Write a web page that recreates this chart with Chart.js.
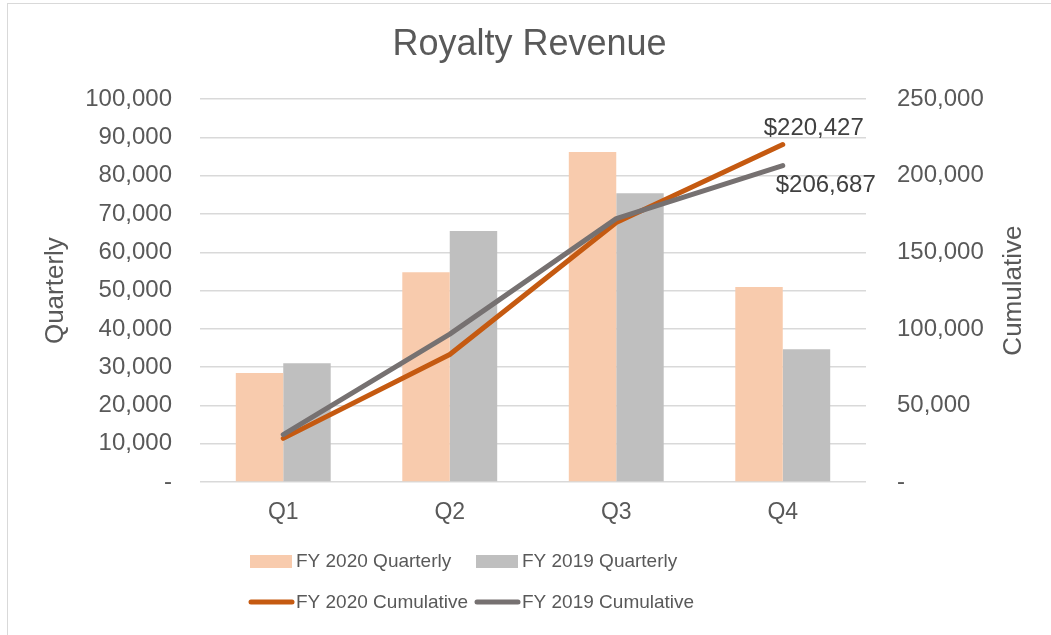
<!DOCTYPE html>
<html><head><meta charset="utf-8">
<script src="https://cdn.jsdelivr.net/npm/chart.js@4.4.0/dist/chart.umd.min.js"></script>
<style>
html,body{margin:0;padding:0;background:#fff;}
#wrap{position:relative;width:1051px;height:635px;overflow:hidden;}
#frame{position:absolute;left:7px;top:3px;width:1060px;height:640px;border:1px solid #D9D9D9;box-sizing:border-box;}
canvas{position:absolute;left:0;top:0;}
</style></head><body>
<div id="wrap"><div id="frame"></div><canvas id="c" width="1051" height="635"></canvas></div>
<script>
const chartTitle = 'Royalty Revenue';
const categories = ['Q1', 'Q2', 'Q3', 'Q4'];
const fy2020Quarterly = [28500, 54800, 86200, 50927];
const fy2019Quarterly = [31000, 65600, 75400, 34687];
const fy2020Cumulative = [28500, 83300, 169500, 220427];
const fy2019Cumulative = [31000, 96600, 172000, 206687];
const seriesLabels = ['FY 2020 Quarterly', 'FY 2019 Quarterly', 'FY 2020 Cumulative', 'FY 2019 Cumulative'];
const leftAxisTitle = 'Quarterly';
const rightAxisTitle = 'Cumulative';
const leftAxisRange = [0, 100000, 10000];
const rightAxisRange = [0, 250000, 50000];

const TEXT = '#595959';
const FONT = "'Liberation Sans', Arial, sans-serif";
const fmt = v => v === 0 ? '-' : v.toLocaleString('en-US');

const extras = {
  id: 'extras',
  afterDraw(chart) {
    const ctx = chart.ctx;
    const ca = chart.chartArea;
    ctx.save();
    // right axis title, reading bottom to top
    ctx.font = '26px ' + FONT;
    ctx.fillStyle = TEXT;
    ctx.textAlign = 'center';
    ctx.textBaseline = 'middle';
    ctx.translate(1014, (ca.top + ca.bottom) / 2);
    ctx.rotate(-Math.PI / 2);
    ctx.fillText(rightAxisTitle, 0, 0);
    ctx.restore();

    // end labels for cumulative lines
    ctx.save();
    ctx.font = '24px ' + FONT;
    ctx.fillStyle = '#404040';
    ctx.textAlign = 'center';
    ctx.textBaseline = 'middle';
    const m2 = chart.getDatasetMeta(2).data;
    const m3 = chart.getDatasetMeta(3).data;
    const p2 = m2[m2.length - 1], p3 = m3[m3.length - 1];
    ctx.fillText('$' + fy2020Cumulative[fy2020Cumulative.length - 1].toLocaleString('en-US'), p2.x + 31, p2.y - 16);
    ctx.fillText('$' + fy2019Cumulative[fy2019Cumulative.length - 1].toLocaleString('en-US'), p3.x + 43, p3.y + 20);
    ctx.restore();

    // legend (2 x 2)
    ctx.save();
    ctx.font = '19px ' + FONT;
    ctx.textBaseline = 'middle';
    ctx.textAlign = 'left';
    const cols = [250, 476];
    const rows = [ca.bottom + 79, ca.bottom + 120];
    chart.data.datasets.forEach((ds, i) => {
      const x = cols[i % 2], y = rows[Math.floor(i / 2)];
      if (ds.type === 'line') {
        ctx.strokeStyle = ds.borderColor;
        ctx.lineWidth = 5;
        ctx.lineCap = 'round';
        ctx.beginPath();
        ctx.moveTo(x + 1, y);
        ctx.lineTo(x + 42, y);
        ctx.stroke();
      } else {
        ctx.fillStyle = ds.backgroundColor;
        ctx.fillRect(x, y - 6, 42, 13);
      }
      ctx.fillStyle = TEXT;
      ctx.fillText(ds.label, x + 46, y + 1);
    });
    ctx.restore();
  }
};

new Chart(document.getElementById('c'), {
  data: {
    labels: categories,
    datasets: [
      { type: 'bar', label: seriesLabels[0], data: fy2020Quarterly, backgroundColor: '#F8CBAD', yAxisID: 'y', order: 2, categoryPercentage: 0.57, barPercentage: 1.0 },
      { type: 'bar', label: seriesLabels[1], data: fy2019Quarterly, backgroundColor: '#BFBFBF', yAxisID: 'y', order: 2, categoryPercentage: 0.57, barPercentage: 1.0 },
      { type: 'line', label: seriesLabels[2], data: fy2020Cumulative, borderColor: '#C55A11', backgroundColor: '#C55A11', borderWidth: 5, pointRadius: 0, borderCapStyle: 'round', borderJoinStyle: 'round', yAxisID: 'y1', order: 1, tension: 0 },
      { type: 'line', label: seriesLabels[3], data: fy2019Cumulative, borderColor: '#767171', backgroundColor: '#767171', borderWidth: 5, pointRadius: 0, borderCapStyle: 'round', borderJoinStyle: 'round', yAxisID: 'y1', order: 0, tension: 0 }
    ]
  },
  options: {
    responsive: false,
    animation: false,
    devicePixelRatio: 1,
    layout: { padding: { left: 8, right: 0, top: 0, bottom: 0 } },
    plugins: {
      legend: { display: false },
      tooltip: { enabled: false },
      title: {
        display: true, text: chartTitle, color: TEXT,
        font: { family: FONT, size: 36, weight: 'normal' },
        padding: { top: 23, bottom: 33 }
      }
    },
    scales: {
      x: {
        grid: { display: false, drawTicks: false },
        border: { display: false },
        ticks: { color: TEXT, font: { family: FONT, size: 23 }, padding: 17 },
        afterFit: s => { s.height = 153; }
      },
      y: {
        position: 'left',
        min: leftAxisRange[0], max: leftAxisRange[1],
        grid: { color: '#D9D9D9', lineWidth: 1.5, drawTicks: false },
        border: { display: false },
        ticks: { stepSize: leftAxisRange[2], color: TEXT, font: { family: FONT, size: 24 }, padding: 28, callback: v => fmt(v) },
        title: { display: true, text: leftAxisTitle, color: TEXT, font: { family: FONT, size: 26 }, padding: { top: 32, bottom: 0 } },
        afterFit: s => { s.width = 192; }
      },
      y1: {
        position: 'right',
        min: rightAxisRange[0], max: rightAxisRange[1],
        grid: { display: false, drawTicks: false },
        border: { display: false },
        ticks: { stepSize: rightAxisRange[2], color: TEXT, font: { family: FONT, size: 24 }, padding: 31, callback: v => fmt(v) },
        afterFit: s => { s.width = 185; }
      }
    }
  },
  plugins: [extras]
});
</script>
</body></html>
